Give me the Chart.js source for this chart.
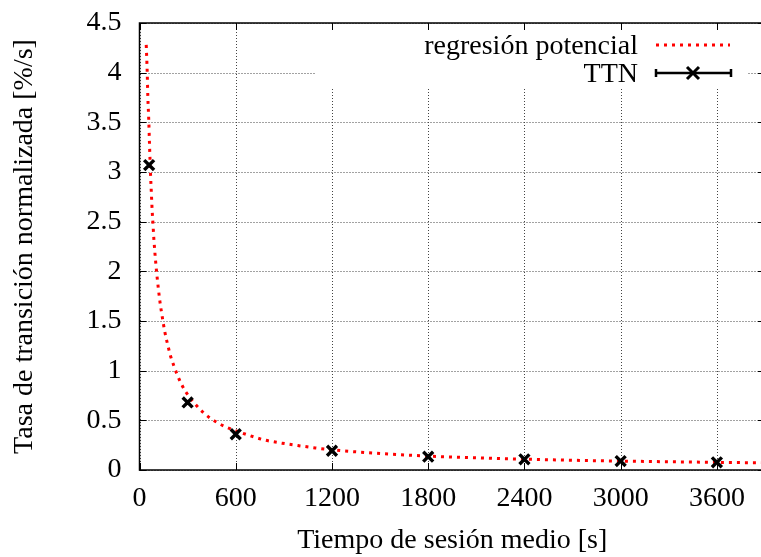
<!DOCTYPE html>
<html>
<head>
<meta charset="utf-8">
<script src="https://cdn.jsdelivr.net/npm/chart.js@4/dist/chart.umd.min.js"></script>
<style>
html,body{margin:0;padding:0;background:#fff;overflow:hidden;}
#wrap{position:absolute;left:0;top:0;width:790px;height:557px;}
</style>
</head>
<body>
<div id="wrap"><canvas id="c" width="790" height="557"></canvas></div>
<script>
// ---- data ----
const ttnX = [60, 300, 600, 1200, 1800, 2400, 3000, 3600];
const ttnY = [3.07, 0.68, 0.36, 0.194, 0.134, 0.107, 0.09, 0.077];

const regX = [42, 48, 52, 58, 62, 69, 75, 79, 85, 89, 100, 110, 127, 141, 158, 179, 193, 214, 235, 260, 287, 355, 397, 442, 488, 536, 681, 785, 889, 993, 1097, 1200, 1500, 1800, 2100, 2400, 2700, 3000, 3300, 3600, 3900];
const regY = [4.28, 4.01, 3.76, 3.51, 3.30, 2.97, 2.75, 2.61, 2.45, 2.34, 2.11, 1.94, 1.70, 1.55, 1.39, 1.24, 1.15, 1.05, 0.96, 0.87, 0.79, 0.65, 0.58, 0.52, 0.475, 0.435, 0.35, 0.30, 0.27, 0.245, 0.222, 0.203, 0.166, 0.140, 0.122, 0.109, 0.098, 0.090, 0.083, 0.077, 0.072];

const xTicks = [0, 600, 1200, 1800, 2400, 3000, 3600];
const yTicks = [0, 0.5, 1, 1.5, 2, 2.5, 3, 3.5, 4, 4.5];
const seriesLabels = ['TTN', 'regresión potencial'];
const xTitle = 'Tiempo de sesión medio [s]';
const yTitle = 'Tasa de transición normalizada [%/s]';

const FONT = 'Liberation Serif, Times New Roman, serif';
const FS = 28;

const framePlugin = {
  id: 'frame',
  beforeDatasetsDraw(chart) {
    const {ctx, chartArea: a, scales} = chart;
    ctx.save();
    // dotted grid
    ctx.strokeStyle = '#444';
    ctx.lineWidth = 1;
    ctx.setLineDash([1, 2]);
    ctx.beginPath();
    xTicks.forEach(v => {
      const px = Math.round(scales.x.getPixelForValue(v)) + 0.5;
      ctx.moveTo(px, a.top); ctx.lineTo(px, a.bottom);
    });
    yTicks.forEach(v => {
      const py = Math.round(scales.y.getPixelForValue(v)) + 0.5;
      ctx.moveTo(a.left, py); ctx.lineTo(a.right, py);
    });
    ctx.stroke();
    ctx.setLineDash([]);
    // key area blanking (grid interrupted there, as in the reference)
    ctx.fillStyle = '#fff';
    ctx.fillRect(316, a.top + 1, 431, 64);
    // frame
    ctx.strokeStyle = '#000';
    ctx.lineWidth = 1.5;
    ctx.strokeRect(a.left, a.top, a.right - a.left, a.bottom - a.top);
    // inward ticks
    ctx.lineWidth = 1;
    ctx.beginPath();
    xTicks.forEach(v => {
      const px = Math.round(scales.x.getPixelForValue(v)) + 0.5;
      ctx.moveTo(px, a.bottom); ctx.lineTo(px, a.bottom - 7);
      ctx.moveTo(px, a.top); ctx.lineTo(px, a.top + 7);
    });
    yTicks.forEach(v => {
      const py = Math.round(scales.y.getPixelForValue(v)) + 0.5;
      ctx.moveTo(a.left, py); ctx.lineTo(a.left + 7, py);
      ctx.moveTo(a.right, py); ctx.lineTo(a.right - 7, py);
    });
    ctx.stroke();
    ctx.restore();
  },
  afterDraw(chart) {
    const {ctx} = chart;
    ctx.save();
    ctx.font = FS + 'px ' + FONT;
    ctx.fillStyle = '#000';
    ctx.textAlign = 'right';
    ctx.textBaseline = 'alphabetic';
    ctx.fillText(seriesLabels[1], 638, 54);
    ctx.fillText(seriesLabels[0], 638, 82);
    // red dotted sample
    ctx.strokeStyle = '#ff0000';
    ctx.lineWidth = 3;
    ctx.setLineDash([3, 5]);
    ctx.beginPath(); ctx.moveTo(656, 45); ctx.lineTo(730, 45); ctx.stroke();
    // TTN sample with error-bar caps
    ctx.setLineDash([]);
    ctx.strokeStyle = '#000';
    ctx.lineWidth = 2.5;
    ctx.beginPath();
    ctx.moveTo(656, 73); ctx.lineTo(731, 73);
    ctx.moveTo(656, 69); ctx.lineTo(656, 77);
    ctx.moveTo(731, 69); ctx.lineTo(731, 77);
    ctx.stroke();
    ctx.lineWidth = 3;
    ctx.beginPath();
    ctx.moveTo(687, 67); ctx.lineTo(699, 79);
    ctx.moveTo(699, 67); ctx.lineTo(687, 79);
    ctx.stroke();
    ctx.restore();
  }
};

new Chart(document.getElementById('c'), {
  data: {
    datasets: [
      {
        type: 'scatter',
        label: seriesLabels[0],
        data: ttnX.map((x, i) => ({x, y: ttnY[i]})),
        showLine: false,
        pointStyle: 'crossRot',
        pointRadius: 7,
        pointBorderWidth: 3.4,
        borderColor: '#000',
        backgroundColor: '#000'
      },
      {
        type: 'line',
        label: seriesLabels[1],
        data: regX.map((x, i) => ({x, y: regY[i]})),
        borderColor: '#ff0000',
        borderWidth: 3,
        borderDash: [3, 5],
        pointRadius: 0,
        cubicInterpolationMode: 'monotone',
        fill: false
      }
    ]
  },
  options: {
    responsive: false,
    animation: false,
    events: [],
    layout: {padding: {left: 0, top: 23, right: 25, bottom: 0}},
    plugins: {legend: {display: false}, tooltip: {enabled: false}},
    scales: {
      x: {
        type: 'linear',
        min: 0, max: 3900,
        afterBuildTicks: s => { s.ticks = xTicks.map(v => ({value: v})); },
        afterFit: s => { s.height = 87; s.paddingLeft = 0; s.paddingRight = 0; },
        grid: {display: false, drawTicks: false},
        border: {display: false},
        ticks: {color: '#000', font: {family: FONT, size: FS}, padding: 12, maxRotation: 0, callback: v => String(v)},
        title: {display: true, text: xTitle, color: '#000', font: {family: FONT, size: FS}, padding: {top: 5, bottom: 0}}
      },
      y: {
        type: 'linear',
        min: 0, max: 4.5,
        afterBuildTicks: s => { s.ticks = yTicks.map(v => ({value: v})); },
        afterFit: s => { s.width = 139.5; s.paddingTop = 0; s.paddingBottom = 0; },
        grid: {display: false, drawTicks: false},
        border: {display: false},
        ticks: {color: '#000', font: {family: FONT, size: FS}, padding: 18, callback: v => String(v)},
        title: {display: true, text: yTitle, color: '#000', font: {family: FONT, size: FS}, padding: {top: 8, bottom: 0}}
      }
    }
  },
  plugins: [framePlugin]
});
</script>
</body>
</html>
